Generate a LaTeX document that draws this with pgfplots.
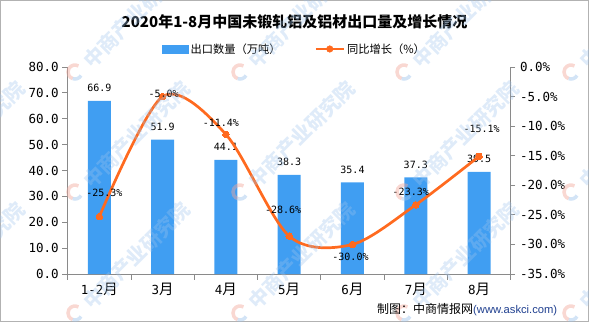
\documentclass[border=0pt]{standalone}
\usepackage{fontspec}
\usepackage{pgfplots}
\pgfplotsset{compat=1.18}
\setmainfont{DejaVu Sans Mono}
\newfontfamily\cjk{Noto Sans CJK SC}
\newfontfamily\lib{Liberation Sans}
\definecolor{barblue}{HTML}{409EF2}
\definecolor{lineor}{HTML}{FF6A1F}
\definecolor{axgray}{HTML}{8A8A8A}
\definecolor{wm}{HTML}{9DC3EC}
\definecolor{wmred}{HTML}{F2A99C}
\definecolor{urlblue}{HTML}{1F3F8F}
\newcommand{\yue}{{\cjk\fontsize{14.5bp}{16bp}\selectfont 月}}
\pgfplotstableread{
x y dx dy
0 -25.3 5 24
1 -5.0 1 3
2 -11.4 -5 12
3 -28.6 -6 26
4 -30.0 -2 -12
5 -23.3 -5 13
6 -15.1 2.5 27
}\growth
\begin{document}
\begin{tikzpicture}[x=1bp,y=1bp]
\path[use as bounding box] (0,0) rectangle (589,322);
\draw[gray!60, line width=0.8bp] (0.4,0.4) rectangle (588.6,321.6);
\node[inner sep=0pt, font=\cjk\bfseries\fontsize{15bp}{18bp}\selectfont] at (294.5,300.5) {2020年1-8月中国未锻轧铝及铝材出口量及增长情况};
\begin{axis}[
  at={(67.7bp,48bp)}, anchor=south west, scale only axis,
  width=443bp, height=207bp,
  xmin=-0.5, xmax=6.5, ymin=0, ymax=80,
  axis x line*=bottom, axis y line*=left,
  axis line style={axgray, line width=0.8bp},
  xtick={-0.5,0.5,...,6.5}, x tick label as interval,
  xticklabels={{1-2\yue},{3\yue},{4\yue},{5\yue},{6\yue},{7\yue},{8\yue}},
  ytick={0,10,...,80},
  tick align=outside, major tick length=5.5bp,
  tick style={axgray, line width=0.8bp},
  yticklabel={\pgfmathprintnumber[fixed,fixed zerofill,precision=1]{\tick}},
  /pgf/number format/assume math mode=true,
  ticklabel style={font=\fontsize{12.5bp}{15bp}\selectfont},
  clip=false,
]
\addplot[ybar, bar width=23bp, fill=barblue, draw=none,
  point meta=y,
  nodes near coords={\pgfmathprintnumber[fixed,fixed zerofill,precision=1]{\pgfplotspointmeta}},
  nodes near coords style={font=\fontsize{10bp}{12bp}\selectfont, text=black, anchor=south, inner sep=0pt, yshift=9bp}]
  coordinates {(0,66.9) (1,51.9) (2,44.1) (3,38.3) (4,35.4) (5,37.3) (6,39.5)};
\end{axis}
\begin{axis}[
  at={(67.7bp,48bp)}, anchor=south west, scale only axis,
  width=443bp, height=207bp,
  xmin=-0.5, xmax=6.5, ymin=-35, ymax=0,
  axis x line=none, axis y line*=right,
  axis line style={axgray, line width=0.8bp},
  ytick={-35,-30,...,0},
  tick align=outside, major tick length=4.5bp,
  tick style={axgray, line width=0.8bp},
  yticklabel={\pgfmathprintnumber[fixed,fixed zerofill,precision=1]{\tick}\%},
  /pgf/number format/assume math mode=true,
  yticklabel style={font=\fontsize{12.5bp}{15bp}\selectfont, xshift=1.3bp},
  clip=false,
  legend columns=2,
  legend style={at={(0.512,1.087)}, anchor=center, draw=none, fill=none,
    font=\cjk\fontsize{11.25bp}{13bp}\selectfont, inner sep=0pt,
    /tikz/every even column/.append style={column sep=32bp}},
  legend cell align=left,
]
\addlegendimage{legend image code/.code={\fill[barblue] (0bp,-4bp) rectangle (26bp,4bp);}}
\addlegendentry{出口数量（万吨）}
\addlegendimage{legend image code/.code={\draw[lineor, line width=2.5bp] (0bp,0bp)--(28bp,0bp); \fill[lineor] (14bp,0bp) circle (3.3bp);}}
\addlegendentry{同比增长（\%）}
\addplot[lineor, line width=2.7bp, smooth, mark=*, mark size=3.3bp,
  mark options={fill=lineor, draw=lineor, line width=0pt},
  point meta=y,
  visualization depends on={\thisrow{dx}\as\myxs},
  visualization depends on={\thisrow{dy}\as\myys},
  nodes near coords={\pgfmathprintnumber[fixed,fixed zerofill,precision=1]{\pgfplotspointmeta}\%},
  nodes near coords style={font=\fontsize{10bp}{12bp}\selectfont, text=black, anchor=center, inner sep=0pt, xshift={\myxs*1bp}, yshift={\myys*1bp}}]
  table[x=x, y=y] {\growth};
\end{axis}
\foreach \lx in {-90,75,240,404,571} {
  \foreach \ly in {250,130,9} {
    \draw[wmred, opacity=0.45, line width=3.5bp] (\lx,\ly) ++(60:7) arc[start angle=60, end angle=250, radius=7];
    \draw[wm, opacity=0.45, line width=3.5bp] (\lx,\ly) ++(250:7) arc[start angle=250, end angle=330, radius=7];
    \node[rotate=45, anchor=west, inner sep=0pt, opacity=0.33, text=wm,
      font=\cjk\bfseries\fontsize{20bp}{20bp}\selectfont] at (\lx+12,\ly+8) {中商产业研究院};
  }
}
\node[anchor=west, inner sep=0pt] at (377,12) {{\cjk\fontsize{12bp}{14bp}\selectfont 制图：中商情报网}{\lib\fontsize{11.2bp}{13bp}\selectfont\color{urlblue}(www.askci.com)}};
\end{tikzpicture}
\end{document}
